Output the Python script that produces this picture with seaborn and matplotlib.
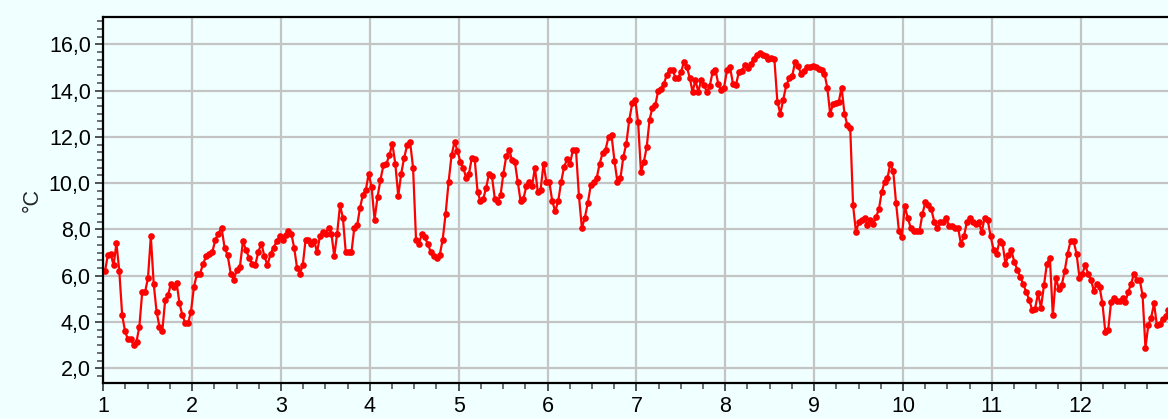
import numpy as np
import pandas as pd
import matplotlib
matplotlib.use("Agg")
import matplotlib.pyplot as plt
import seaborn as sns
from matplotlib.ticker import MultipleLocator, AutoMinorLocator, FuncFormatter

# --- daily values per month (°C) ---
jan = [6.2, 6.88, 6.95, 6.45, 7.4, 6.2, 4.3, 3.6, 3.25, 3.25, 3.0, 3.15, 3.8, 5.3, 5.3, 5.9,
       7.7, 5.65, 4.45, 3.8, 3.6, 4.95, 5.15, 5.65, 5.5, 5.7, 4.8, 4.3, 3.95, 3.95, 4.45]
feb = [5.51, 6.09, 6.09, 6.52, 6.84, 6.95, 7.02, 7.56, 7.82, 8.08, 7.21, 6.88, 6.09, 5.83, 6.26,
       6.38, 7.49, 7.1, 6.78, 6.52, 6.45, 7.02, 7.39, 6.84, 6.45, 6.95, 7.21, 7.49, 7.7]
mar = [7.56, 7.75, 7.92, 7.82, 7.21, 6.35, 6.09, 6.45, 7.56, 7.56, 7.39, 7.49, 7.02, 7.7, 7.89,
       7.82, 8.08, 7.82, 6.84, 7.82, 9.04, 8.51, 7.02, 7.02, 7.02, 8.08, 8.18, 8.94, 9.5, 9.7, 10.4]
apr = [9.83, 8.42, 9.4, 10.15, 10.77, 10.84, 11.2, 11.71, 10.84, 9.45, 10.41, 11.1, 11.63, 11.78,
       10.67, 7.56, 7.39, 7.82, 7.65, 7.36, 7.02, 6.84, 6.78, 6.88, 7.56, 8.68, 10.05, 11.2, 11.78, 11.39]
may = [10.91, 10.67, 10.22, 10.41, 11.1, 11.02, 9.62, 9.22, 9.33, 9.8, 10.41, 10.3, 9.33, 9.19,
       9.47, 10.41, 11.16, 11.45, 10.99, 10.91, 10.05, 9.22, 9.33, 9.86, 10.05, 9.86, 10.67, 9.62,
       9.72, 10.84, 10.05]
jun = [10.05, 9.22, 8.78, 9.22, 10.05, 10.7, 11.02, 10.84, 11.45, 11.45, 9.45, 8.06, 8.51, 9.14,
       9.91, 10.05, 10.22, 10.84, 11.3, 11.45, 12.0, 12.07, 10.96, 10.05, 10.2, 11.13, 11.7, 12.74,
       13.44, 13.61]
jul = [12.64, 10.48, 10.91, 11.56, 12.74, 13.26, 13.37, 13.98, 14.06, 14.3, 14.66, 14.9, 14.9,
       14.56, 14.56, 14.8, 15.24, 15.02, 14.56, 13.94, 14.45, 13.94, 14.45, 14.24, 13.94, 14.2,
       14.8, 14.88, 14.27, 14.01, 14.13]
aug = [14.9, 15.02, 14.3, 14.23, 14.8, 14.86, 15.09, 14.99, 15.13, 15.38, 15.52, 15.6, 15.52,
       15.48, 15.38, 15.42, 15.34, 13.51, 13.0, 13.61, 14.23, 14.52, 14.62, 15.24, 15.05, 14.73,
       14.85, 15.02, 15.02, 15.05]
sep = [15.02, 14.95, 14.88, 14.73, 14.13, 13.0, 13.41, 13.44, 13.51, 14.13, 13.0, 12.5, 12.4,
       9.04, 7.89, 8.32, 8.42, 8.51, 8.18, 8.42, 8.22, 8.54, 8.86, 9.62, 10.05, 10.22, 10.84,
       10.53, 9.14, 7.93, 7.65]
oct_ = [9.0, 8.51, 8.08, 7.93, 7.93, 7.93, 8.68, 9.19, 9.04, 8.86, 8.32, 8.08, 8.32, 8.32, 8.51,
        8.14, 8.14, 8.08, 8.08, 7.36, 7.7, 8.32, 8.51, 8.32, 8.25, 8.32, 7.89, 8.51, 8.42, 7.7]
nov = [7.13, 6.92, 7.5, 7.41, 6.52, 6.88, 7.1, 6.59, 6.26, 5.94, 5.65, 5.3, 4.97, 4.53, 4.58,
       5.23, 4.62, 5.58, 6.52, 6.78, 4.29, 5.92, 5.44, 5.58, 6.2, 6.95, 7.5, 7.5, 6.95, 5.92]
dec = [6.09, 6.45, 6.09, 5.83, 5.34, 5.65, 5.51, 4.8, 3.57, 3.64, 4.86, 5.05, 4.91, 4.91, 5.05,
       4.86, 5.3, 5.65, 6.09, 5.8, 5.83, 5.15, 2.89, 3.86, 4.19, 4.8, 3.86, 3.93, 4.14, 4.24, 4.5]

months = [jan, feb, mar, apr, may, jun, jul, aug, sep, oct_, nov, dec]
month_ticks = list(range(1, 13))

# --- build the table: each month's days spread over its unit on the x axis ---
rows = []
for m, vals in enumerate(months, start=1):
    n = len(vals)
    for k, v in enumerate(vals):
        rows.append({"month": m + (k + 0.6) / n, "temp": v})
df = pd.DataFrame(rows)

# --- plot ---
sns.set_theme(style="white")
plt.rcParams["font.family"] = ["Liberation Sans", "DejaVu Sans"]
bg = "#F0FFFF"

fig = plt.figure(figsize=(11.68, 4.19), dpi=100, facecolor=bg)
ax = fig.add_axes([0.0884, 0.0852, 0.9129, 0.875])
ax.set_facecolor(bg)

sns.lineplot(data=df, x="month", y="temp", ax=ax, color="#FF0000", linewidth=1.6,
             marker="o", markersize=4.8, markeredgewidth=0, estimator=None, sort=False)

ax.set_xlim(1, 13)
ax.set_ylim(1.35, 17.19)
ax.set_xticks(month_ticks)
ax.set_xticklabels([str(m) for m in month_ticks])
ax.xaxis.set_minor_locator(AutoMinorLocator(4))
ax.yaxis.set_major_locator(MultipleLocator(2))
ax.yaxis.set_minor_locator(AutoMinorLocator(6))
ax.yaxis.set_major_formatter(FuncFormatter(lambda v, p: f"{v:.1f}".replace(".", ",")))

ax.grid(True, which="major", color="#C4C4C4", linewidth=1.6)
ax.set_axisbelow(True)

for s in ["left", "top", "bottom"]:
    ax.spines[s].set_color("black")
    ax.spines[s].set_linewidth(1.6)
ax.spines["right"].set_visible(False)

ax.tick_params(axis="both", which="major", direction="out", length=6, width=1.2,
               color="#333333", labelsize=15.5, labelcolor="black", pad=3,
               bottom=True, left=True)
ax.tick_params(axis="both", which="minor", direction="out", length=4, width=1.2,
               color="#555555", bottom=True, left=True)

ax.set_xlabel("")
ax.set_ylabel("°C", fontsize=15.5, labelpad=4)

fig.savefig("out.png", dpi=100, facecolor=bg)
